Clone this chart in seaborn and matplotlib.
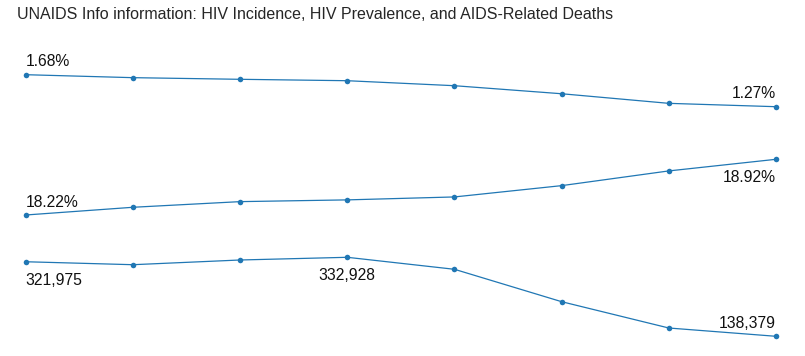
import matplotlib
matplotlib.use("Agg")
import matplotlib.pyplot as plt
import seaborn as sns
import pandas as pd

# data (8 yearly points per indicator)
years = [1, 2, 3, 4, 5, 6, 7, 8]
hiv_incidence = [1.68, 1.642, 1.621, 1.603, 1.539, 1.436, 1.313, 1.27]
hiv_prevalence = [18.22, 18.317, 18.388, 18.41, 18.447, 18.589, 18.774, 18.92]
aids_deaths = [321975, 314700, 326300, 332928, 303400, 223600, 158800, 138379]

title = "UNAIDS Info information: HIV Incidence, HIV Prevalence, and AIDS-Related Deaths"

sns.set_style("white")
plt.rcParams["font.family"] = ["Liberation Sans", "DejaVu Sans"]

color = "#2077b4"
W, H = 805, 356
fig = plt.figure(figsize=(W / 100, H / 100), dpi=100)

fig.text(17 / W, 1 - 19 / H, title, fontsize=11.5, va="baseline", ha="left")

# pixel band (top, bottom) for each series
bands = [(74.7, 106.7), (159.3, 215.0), (257.3, 336.3)]
x_left, x_right = 25.7, 776.0


def pct(v):
    return f"{v:.2f}%"


def num(v):
    return f"{v:,.0f}"


# (series, formatter, labels as (index, above?))
series = [
    (hiv_incidence, pct, [(0, True), (7, True)]),
    (hiv_prevalence, pct, [(0, True), (7, False)]),
    (aids_deaths, num, [(0, False), (3, False), (7, True)]),
]

for (values, fmt, labels), (top, bottom) in zip(series, bands):
    ax = fig.add_axes([x_left / W, 1 - bottom / H,
                       (x_right - x_left) / W, (bottom - top) / H])
    df = pd.DataFrame({"year": years, "value": values})
    sns.lineplot(data=df, x="year", y="value", ax=ax, color=color,
                 linewidth=0.9, marker="o", markersize=4,
                 markeredgewidth=0, clip_on=False)
    ax.set_xlim(years[0], years[-1])
    ax.set_ylim(min(values), max(values))
    ax.axis("off")

    for i, above in labels:
        if i == 0:
            ha = "left"
        elif i == len(values) - 1:
            ha = "right"
        else:
            ha = "center"
        dy = 6.1 if above else -16.6
        ax.annotate(fmt(values[i]), (years[i], values[i]),
                    xytext=(0, dy), textcoords="offset points",
                    ha=ha, va="baseline", fontsize=11.3, color="#111111")

plt.savefig("out.png", dpi=100)
